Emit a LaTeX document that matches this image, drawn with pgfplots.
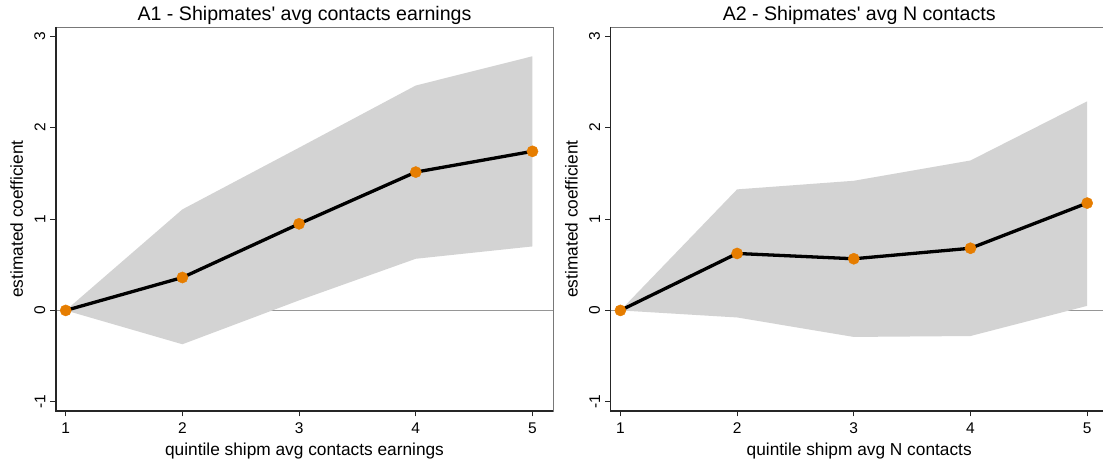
\documentclass[border=0pt]{standalone}
\usepackage{fontspec}
\setmainfont{Liberation Sans}
\usepackage{pgfplots}
\pgfplotsset{compat=1.18}
\definecolor{ciFill}{RGB}{211,211,211}
\definecolor{mkOrange}{RGB}{230,125,0}
\definecolor{frameGray}{RGB}{120,120,120}
\definecolor{zeroGray}{RGB}{150,150,150}
\newcommand{\tickfont}{\fontsize{15.5}{18}\selectfont}
\pgfplotsset{
  stataax/.style={
    scale only axis, width=497pt, height=384pt,
    anchor=south west,
    xmin=0.917, xmax=5.176, ymin=-1.1, ymax=3.1,
    xtick={1,2,3,4,5}, ytick={-1,0,1,2,3},
    tick pos=left, tick align=outside, major tick length=5.5pt,
    tick style={black!85, line width=0.8pt},
    axis line style={frameGray, line width=0.8pt},
    clip=false,
    /pgf/number format/assume math mode=true,
    xticklabel style={font=\tickfont, inner sep=0pt, anchor=north, yshift=-6pt},
    yticklabel style={font=\tickfont, rotate=90, anchor=south, inner xsep=0pt, inner ysep=5pt},
    every axis title/.style={at={([yshift=6.5pt]axis description cs:0.5,1)}, anchor=base, font=\fontsize{19.6}{22}\selectfont, inner sep=0pt},
    every axis x label/.style={at={([yshift=-45pt]axis description cs:0.5,0)}, anchor=base, font=\fontsize{17.3}{20}\selectfont, inner sep=0pt},
    every axis y label/.style={at={([xshift=-33pt]axis description cs:0,0.5)}, rotate=90, anchor=base, font=\fontsize{17.3}{20}\selectfont, inner sep=0pt},
    ylabel={estimated coefficient},
  },
  estline/.style={black, line width=3.3pt, mark=*, mark size=5.6pt, mark options={draw=mkOrange, fill=mkOrange, line width=0.4pt}},
}
\begin{document}
\begin{tikzpicture}
\begin{axis}[stataax, at={(56pt,54pt)},
  title={A1 - Shipmates\textquotesingle{} avg contacts earnings},
  xlabel={quintile shipm avg contacts earnings}]
\addplot[zeroGray, line width=0.8pt, forget plot] coordinates {(0.917,0) (5.176,0)};
\addplot[fill=ciFill, draw=none, forget plot] coordinates {(1,0) (2,1.105) (3,1.78) (4,2.46) (5,2.78) (5,0.70) (4,0.565) (3,0.11) (2,-0.37) (1,0)};
\addplot[estline] coordinates {(1,0) (2,0.36) (3,0.947) (4,1.513) (5,1.74)};
\draw[black!85, line width=1.1pt] (rel axis cs:0,1) -- (rel axis cs:0,0) -- (rel axis cs:1,0);
\end{axis}
\begin{axis}[stataax, at={(610.7pt,54pt)},
  title={A2 - Shipmates\textquotesingle{} avg N contacts},
  xlabel={quintile shipm avg N contacts}]
\addplot[zeroGray, line width=0.8pt, forget plot] coordinates {(0.917,0) (5.176,0)};
\addplot[fill=ciFill, draw=none, forget plot] coordinates {(1,0) (2,1.324) (3,1.418) (4,1.64) (5,2.287) (5,0.05) (4,-0.28) (3,-0.29) (2,-0.077) (1,0)};
\addplot[estline] coordinates {(1,0) (2,0.623) (3,0.565) (4,0.68) (5,1.174)};
\draw[black!85, line width=1.1pt] (rel axis cs:0,1) -- (rel axis cs:0,0) -- (rel axis cs:1,0);
\end{axis}
\pgfresetboundingbox
\useasboundingbox (0,0) rectangle (1103pt,465pt);
\end{tikzpicture}
\end{document}
